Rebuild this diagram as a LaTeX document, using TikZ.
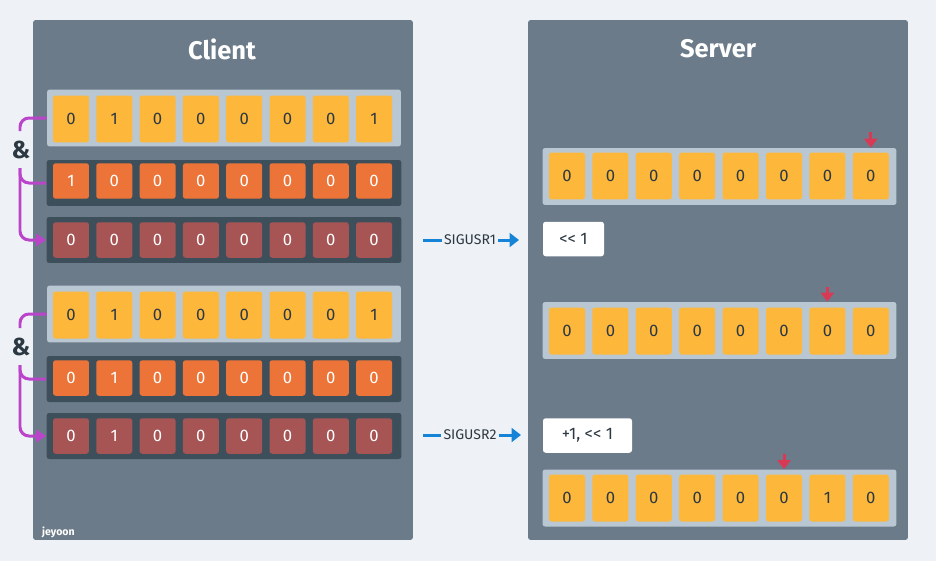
\documentclass[tikz,border=0pt]{standalone}
\usepackage{fontspec}
\setmainfont{Fira Sans}
\usetikzlibrary{arrows.meta,positioning}
\definecolor{pagebg}{RGB}{238,242,246}
\definecolor{panelgray}{RGB}{108,123,137}
\definecolor{rowlight}{RGB}{185,199,210}
\definecolor{rowdark}{RGB}{62,79,92}
\definecolor{bityellow}{RGB}{253,183,58}
\definecolor{bitorange}{RGB}{236,116,56}
\definecolor{bitmaroon}{RGB}{166,84,84}
\definecolor{inkdark}{RGB}{44,56,66}
\definecolor{andpurple}{RGB}{186,68,202}
\definecolor{sigblue}{RGB}{22,132,214}
\definecolor{markred}{RGB}{216,58,86}

\begin{document}
\begin{tikzpicture}[x=0.02cm, y=-0.02cm,
  panel/.style={fill=panelgray, rounded corners=1.5pt,
        minimum width=7.6cm, minimum height=10.4cm},
  paneltitle/.style={text=white, font=\fontsize{14.5}{16}\selectfont\bfseries},
  lightrow/.style={fill=rowlight, rounded corners=1.5pt,
        minimum width=7.08cm, minimum height=1.14cm},
  darkrow/.style={fill=rowdark, rounded corners=1.5pt,
        minimum width=7.1cm, minimum height=0.92cm},
  bitcell/.style={rounded corners=1.5pt, inner sep=0pt, minimum width=0.72cm,
        font=\fontsize{9.5}{11}\selectfont},
  ybit/.style={bitcell, fill=bityellow, text=inkdark, minimum height=0.94cm},
  obit/.style={bitcell, fill=bitorange, text=white, minimum height=0.71cm},
  mbit/.style={bitcell, fill=bitmaroon, text=white, minimum height=0.71cm},
  ampsign/.style={text=inkdark, font=\fontsize{14}{16}\selectfont\bfseries},
  andline/.style={andpurple, line width=0.06cm, rounded corners=0.18cm},
  opbox/.style={fill=white, rounded corners=1.5pt, text=inkdark,
        minimum height=0.69cm, font=\fontsize{9.5}{11}\selectfont},
  siglabel/.style={text=inkdark, inner sep=1pt, font=\fontsize{8}{9}\selectfont},
  sigline/.style={sigblue, line width=0.06cm},
  marker/.style={markred, line width=0.06cm, -{Triangle[length=0.18cm,width=0.26cm]}}
]
  % Page
  \fill[pagebg] (0,0) rectangle (936,561);
  \useasboundingbox (0,0) rectangle (936,561);

  % Panels
  \node[panel] (client) at (223,280) {};
  \node[panel] (server) at (718,280) {};
  \node[paneltitle] (clienttitle) at (222,49) {Client};
  \node[paneltitle] (servertitle) at (718,49) {Server};
  \node[anchor=west, text=white, font=\fontsize{6}{7}\selectfont\bfseries] (tag) at (36,532) {jeyoon};

  % Client: first AND
  \node[lightrow] (r1) at (224,118) {};
  \node[darkrow] (r2) at (224,183) {};
  \node[darkrow] (r3) at (224,240) {};
  \foreach \v [count=\i] in {0,1,0,0,0,0,0,1}
    \node[ybit] (r1c\i) at ({71+43.3*(\i-1)},119) {\v};
  \foreach \v [count=\i] in {1,0,0,0,0,0,0,0}
    \node[obit] (r2c\i) at ({71+43.3*(\i-1)},181) {\v};
  \foreach \v [count=\i] in {0,0,0,0,0,0,0,0}
    \node[mbit] (r3c\i) at ({71+43.3*(\i-1)},240) {\v};

  % Client: second AND
  \node[lightrow] (r4) at (224,314) {};
  \node[darkrow] (r5) at (224,379) {};
  \node[darkrow] (r6) at (224,436) {};
  \foreach \v [count=\i] in {0,1,0,0,0,0,0,1}
    \node[ybit] (r4c\i) at ({71+43.3*(\i-1)},315) {\v};
  \foreach \v [count=\i] in {0,1,0,0,0,0,0,0}
    \node[obit] (r5c\i) at ({71+43.3*(\i-1)},378) {\v};
  \foreach \v [count=\i] in {0,1,0,0,0,0,0,0}
    \node[mbit] (r6c\i) at ({71+43.3*(\i-1)},436) {\v};

  % AND brackets
  \node[ampsign] (amp1) at (21,150) {\&};
  \coordinate (and1top) at (20,131);
  \coordinate (and1bot) at (20,168);
  \draw[andline] (r1.west) -| (and1top);
  \draw[andline] (r2.west) -| (and1bot);
  \draw[andline, -{Triangle[length=0.2cm,width=0.24cm]}] (and1bot) |- (r3.west);

  \node[ampsign] (amp2) at (21,347) {\&};
  \coordinate (and2top) at (20,328);
  \coordinate (and2bot) at (20,365);
  \draw[andline] (r4.west) -| (and2top);
  \draw[andline] (r5.west) -| (and2bot);
  \draw[andline, -{Triangle[length=0.2cm,width=0.24cm]}] (and2bot) |- (r6.west);

  % Signals
  \node[siglabel] (sig1) at (470,240) {SIGUSR1};
  \coordinate (sig1in) at (423,240);
  \coordinate (sig1out) at (519,240);
  \draw[sigline] (sig1in) -- (sig1.west);
  \draw[sigline, -{Triangle[length=0.19cm,width=0.28cm]}] (sig1.east) -- (sig1out);

  \node[siglabel] (sig2) at (470,435) {SIGUSR2};
  \coordinate (sig2in) at (423,435);
  \coordinate (sig2out) at (521,435);
  \draw[sigline] (sig2in) -- (sig2.west);
  \draw[sigline, -{Triangle[length=0.19cm,width=0.28cm]}] (sig2.east) -- (sig2out);

  % Server: bit buffer steps
  \node[lightrow] (srva) at (719.5,176.5) {};
  \node[lightrow] (srvb) at (719.5,330.5) {};
  \node[lightrow] (srvc) at (719.5,498) {};
  \foreach \v [count=\i] in {0,0,0,0,0,0,0,0}
    \node[ybit] (sac\i) at ({567+43.4*(\i-1)},176) {\v};
  \foreach \v [count=\i] in {0,0,0,0,0,0,0,0}
    \node[ybit] (sbc\i) at ({567+43.4*(\i-1)},331) {\v};
  \foreach \v [count=\i] in {0,0,0,0,0,0,1,0}
    \node[ybit] (scc\i) at ({567+43.4*(\i-1)},498) {\v};

  % Operations
  \node[opbox, minimum width=1.22cm] (op1) at (573.5,239) {<{}< 1};
  \node[opbox, minimum width=1.78cm] (op2) at (587.5,435.5) {+1, <{}< 1};

  % Bit pointers
  \draw[marker] ([yshift=0.4cm]sac8.north) -- (sac8 |- srva.north);
  \draw[marker] ([yshift=0.4cm]sbc7.north) -- (sbc7 |- srvb.north);
  \draw[marker] ([yshift=0.4cm]scc6.north) -- (scc6 |- srvc.north);
\end{tikzpicture}
\end{document}
